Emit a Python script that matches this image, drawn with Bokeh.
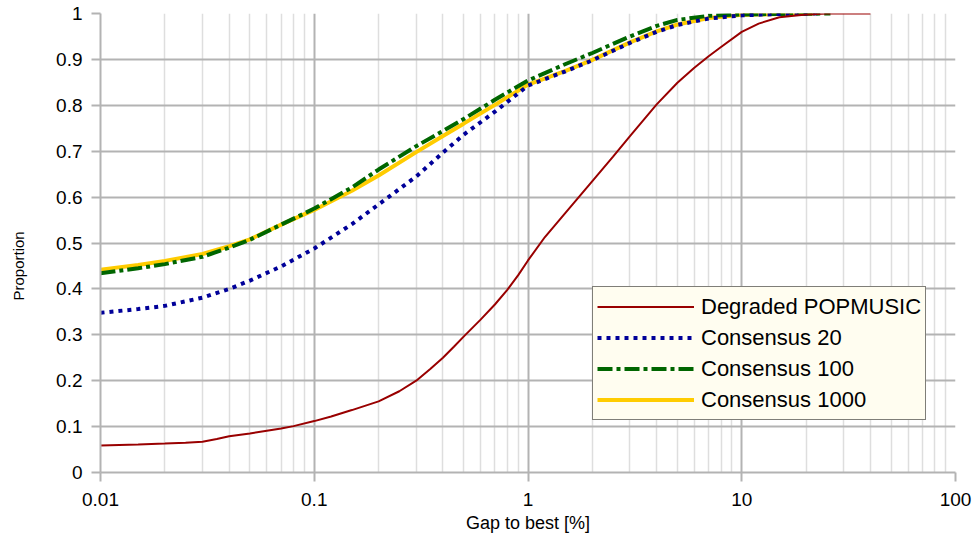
from bokeh.plotting import figure
from bokeh.models import (FixedTicker, CustomJSTickFormatter, Legend, LegendItem,
                          Range1d)
from bokeh.embed import file_html
from bokeh.resources import INLINE

# ---------------- data ----------------
x_ticks = [0.01, 0.1, 1, 10, 100]
y_ticks = [0, 0.1, 0.2, 0.3, 0.4, 0.5, 0.6, 0.7, 0.8, 0.9, 1.0]

deg_x = [0.01, 0.015, 0.02, 0.025, 0.03, 0.035, 0.04, 0.05, 0.06, 0.07, 0.08, 0.1,
         0.12, 0.15, 0.2, 0.25, 0.3, 0.35, 0.4, 0.45, 0.5, 0.6, 0.7, 0.8, 0.9, 1.0,
         1.2, 1.5, 2, 2.5, 3, 4, 5, 6, 7, 8, 10, 12, 15, 20, 25, 40]
deg_y = [0.059, 0.061, 0.063, 0.065, 0.067, 0.073, 0.079, 0.085, 0.091, 0.096, 0.101,
         0.112, 0.122, 0.136, 0.155, 0.177, 0.200, 0.226, 0.250, 0.274, 0.296, 0.333,
         0.366, 0.398, 0.430, 0.462, 0.513, 0.566, 0.635, 0.688, 0.733, 0.802, 0.849,
         0.882, 0.907, 0.927, 0.960, 0.978, 0.992, 0.998, 1.0, 1.0]

c20_x = [0.01, 0.015, 0.02, 0.03, 0.04, 0.05, 0.07, 0.1, 0.15, 0.2, 0.3, 0.4, 0.5,
         0.7, 1.0, 1.5, 2, 3, 4, 5, 7, 10, 15, 23]
c20_y = [0.348, 0.356, 0.363, 0.381, 0.400, 0.418, 0.449, 0.488, 0.541, 0.584, 0.645,
         0.697, 0.736, 0.786, 0.843, 0.874, 0.898, 0.936, 0.960, 0.975, 0.989, 0.996,
         0.999, 1.0]

c100_x = [0.01, 0.015, 0.02, 0.03, 0.04, 0.05, 0.07, 0.1, 0.15, 0.2, 0.3, 0.4, 0.5,
          0.7, 1.0, 1.5, 2, 3, 4, 5, 7, 10, 15, 26]
c100_y = [0.434, 0.445, 0.454, 0.470, 0.490, 0.507, 0.540, 0.575, 0.621, 0.660, 0.711,
          0.744, 0.770, 0.812, 0.854, 0.890, 0.914, 0.950, 0.973, 0.986, 0.995, 0.998,
          0.999, 1.0]

c1000_x = [0.01, 0.015, 0.02, 0.03, 0.04, 0.05, 0.07, 0.1, 0.15, 0.2, 0.3, 0.4, 0.5,
           0.7, 1.0, 1.5, 2, 3, 4, 5, 7, 10, 15, 22]
c1000_y = [0.442, 0.452, 0.461, 0.476, 0.493, 0.508, 0.540, 0.572, 0.614, 0.647, 0.698,
           0.733, 0.760, 0.801, 0.845, 0.875, 0.899, 0.937, 0.961, 0.976, 0.990, 0.997,
           0.999, 1.0]

FONT = "Liberation Sans"

p = figure(width=976, height=539, x_axis_type="log",
           x_range=Range1d(0.01, 100), y_range=Range1d(0, 1),
           output_backend="svg", toolbar_location=None,
           min_border_left=100, min_border_right=21, min_border_top=13,
           min_border_bottom=67)
p.outline_line_color = None
p.background_fill_color = "white"
p.border_fill_color = "white"

minor = [m * d for d in [0.01, 0.1, 1, 10] for m in range(2, 10)]
p.xaxis.ticker = FixedTicker(ticks=x_ticks, minor_ticks=minor)
p.yaxis.ticker = FixedTicker(ticks=y_ticks)
p.xaxis.formatter = CustomJSTickFormatter(code="return String(Number(tick.toPrecision(6)));")
p.yaxis.formatter = CustomJSTickFormatter(code="return String(Number(tick.toFixed(1)));")

for ax in (p.xaxis[0], p.yaxis[0]):
    ax.axis_line_color = "#b3b3b3"
    ax.axis_line_width = 2
    ax.major_tick_line_color = "#b3b3b3"
    ax.major_tick_line_width = 2
    ax.major_tick_out = 9
    ax.major_tick_in = 0
    ax.minor_tick_line_color = None
    ax.major_label_text_font = FONT
    ax.major_label_text_font_size = "19px"
    ax.major_label_text_color = "black"
    ax.axis_label_text_font = FONT
    ax.axis_label_text_font_style = "normal"
    ax.axis_label_text_color = "black"

p.xaxis.axis_label = "Gap to best [%]"
p.xaxis.axis_label_text_font_size = "18px"
p.xaxis.major_label_standoff = 11
p.xaxis.axis_label_standoff = 4

# trailing no-break spaces push the visible title a little below the frame centre,
# as in the reference
p.yaxis.axis_label = "Proportion" + "\u00a0" * 11
p.yaxis.axis_label_text_font_size = "15px"
p.yaxis.major_label_standoff = 9
p.yaxis.axis_label_standoff = 26

p.xgrid.grid_line_color = "#b3b3b3"
p.xgrid.grid_line_width = 2
p.xgrid.minor_grid_line_color = "#dedede"
p.xgrid.minor_grid_line_width = 1.5
p.ygrid.grid_line_color = "#b3b3b3"
p.ygrid.grid_line_width = 2

r_yel = p.line(c1000_x, c1000_y, line_color="#ffcc00", line_width=4)
r_grn = p.line(c100_x, c100_y, line_color="#006600", line_width=4,
               line_dash="15 4 4 4")
r_blu = p.line(c20_x, c20_y, line_color="#000099", line_width=4, line_dash="4 5")
r_red = p.line(deg_x, deg_y, line_color="#990000", line_width=2)

legend = Legend(items=[
    LegendItem(label="Degraded POPMUSIC", renderers=[r_red]),
    LegendItem(label="Consensus 20", renderers=[r_blu]),
    LegendItem(label="Consensus 100", renderers=[r_grn]),
    LegendItem(label="Consensus 1000", renderers=[r_yel]),
], location=(492, 52))
legend.background_fill_color = "#fffdf0"
legend.background_fill_alpha = 1
legend.border_line_color = "black"
legend.border_line_width = 1
legend.label_text_font = FONT
legend.label_text_font_size = "22px"
legend.label_text_color = "black"
legend.glyph_width = 97
legend.glyph_height = 31
legend.label_height = 31
legend.label_standoff = 7
legend.spacing = 0
legend.padding = 4
legend.margin = 0
p.add_layout(legend)

open("out.html", "w").write(file_html(p, INLINE))
